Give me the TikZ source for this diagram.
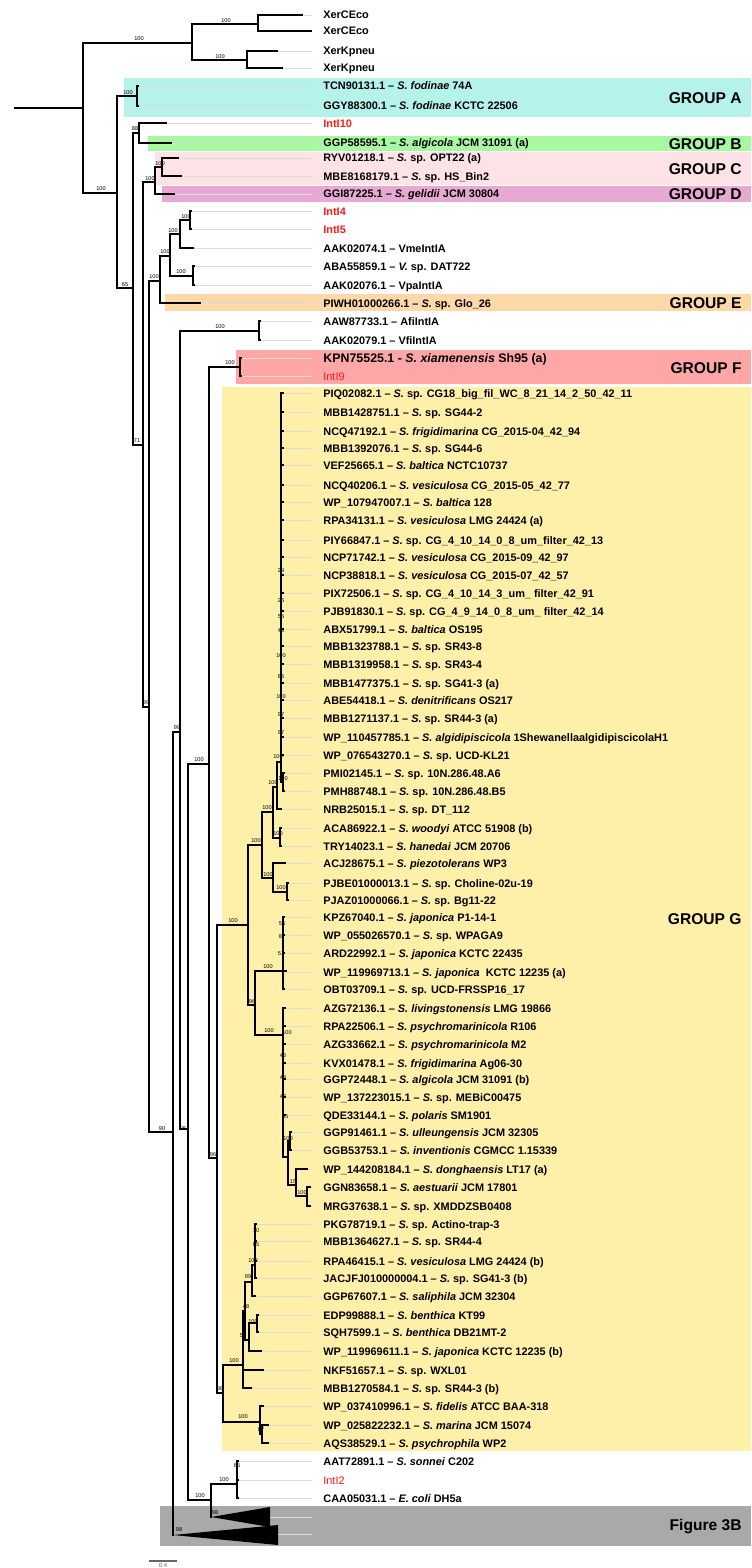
\documentclass[tikz,border=0pt]{standalone}
\usepackage{fontspec}
\setmainfont{Liberation Sans}
\definecolor{grpA}{HTML}{B5F2EC}
\definecolor{grpB}{HTML}{A7F8A0}
\definecolor{grpC}{HTML}{FDE3E6}
\definecolor{grpD}{HTML}{E7A9D4}
\definecolor{grpE}{HTML}{FFD8A8}
\definecolor{grpF}{HTML}{FFA7A7}
\definecolor{grpG}{HTML}{FFF0A9}
\definecolor{grpX}{HTML}{A9A9A9}
\definecolor{intred}{HTML}{FF1A1A}
\tikzset{
  twig/.style={line width=1.35pt,line cap=rect},
  guide/.style={line width=0.45pt,black!14},
  leaf/.style={anchor=west,inner sep=0pt,text height=4pt,text depth=0pt,font=\bfseries\fontsize{5.45}{6}\selectfont},
  boot/.style={inner sep=0pt,font=\fontsize{2.8}{3}\selectfont},
  grouplab/.style={anchor=east,inner sep=0pt,font=\bfseries\fontsize{7.8}{9}\selectfont}
}
\begin{document}
\begin{tikzpicture}[x=0.5pt,y=-0.5pt]
\useasboundingbox (0,0) rectangle (751,1568);
% group shading
\fill[grpA] (124,78) rectangle (751,117);
\fill[grpB] (148,136) rectangle (751,151);
\fill[grpC] (155,152) rectangle (751,185);
\fill[grpD] (162,186) rectangle (751,202);
\fill[grpE] (165,294) rectangle (751,311);
\fill[grpF] (236,350) rectangle (751,384);
\fill[grpG] (222,387) rectangle (751,1451);
\fill[grpX] (160,1506) rectangle (751,1546);
% leaves: index/y/tip/text
\foreach \i/\y/\tx/\txt in {
1/15/302/{XerCEco}, 2/31/311/{XerCEco}, 3/51/277/{XerKpneu}, 4/68/282/{XerKpneu},
5/86/138/{TCN90131.1 – \textit{S. fodinae} 74A},
6/106/138/{GGY88300.1 – \textit{S. fodinae} KCTC 22506},
7/123/166/{\textcolor{intred}{IntI10}},
8/143/171/{GGP58595.1 – \textit{S. algicola} JCM 31091 (a)},
9/158/178/{RYV01218.1 – \textit{S.} sp. OPT22 (a)},
10/176/181/{MBE8168179.1 – \textit{S.} sp. HS\_Bin2},
11/194/174/{GGI87225.1 – \textit{S. gelidii} JCM 30804},
12/211/191/{\textcolor{intred}{IntI4}}, 13/229/191/{\textcolor{intred}{IntI5}},
14/248/193/{AAK02074.1 – VmeIntIA},
15/266/194/{ABA55859.1 – \textit{V.} sp. DAT722},
16/285/194/{AAK02076.1 – VpaIntIA},
17/303/200/{PIWH01000266.1 – \textit{S.} sp. Glo\_26},
18/321/260/{AAW87733.1 – AfiIntIA},
19/340/260/{AAK02079.1 – VfiIntIA},
20/358/241/{\fontsize{6.2}{7}\selectfont KPN75525.1 - \textit{S. xiamenensis} Sh95 (a)},
21/376/241/{\mdseries\textcolor{intred}{IntI9}},
22/393/283/{PIQ02082.1 – \textit{S.} sp. CG18\_big\_fil\_WC\_8\_21\_14\_2\_50\_42\_11},
23/412/283/{MBB1428751.1 – \textit{S.} sp. SG44-2},
24/431/283/{NCQ47192.1 – \textit{S. frigidimarina} CG\_2015-04\_42\_94},
25/448/283/{MBB1392076.1 – \textit{S.} sp. SG44-6},
26/465/283/{VEF25665.1 – \textit{S. baltica} NCTC10737},
27/485/283/{NCQ40206.1 – \textit{S. vesiculosa} CG\_2015-05\_42\_77},
28/502/283/{WP\_107947007.1 – \textit{S. baltica} 128},
29/520/283/{RPA34131.1 – \textit{S. vesiculosa} LMG 24424 (a)},
30/540/283/{PIY66847.1 – \textit{S.} sp. CG\_4\_10\_14\_0\_8\_um\_filter\_42\_13},
31/557/283/{NCP71742.1 – \textit{S. vesiculosa} CG\_2015-09\_42\_97},
32/575/283/{NCP38818.1 – \textit{S. vesiculosa} CG\_2015-07\_42\_57},
33/593/283/{PIX72506.1 – \textit{S.} sp. CG\_4\_10\_14\_3\_um\_ filter\_42\_91},
34/611/283/{PJB91830.1 – \textit{S.} sp. CG\_4\_9\_14\_0\_8\_um\_ filter\_42\_14},
35/629/283/{ABX51799.1 – \textit{S. baltica} OS195},
36/646/283/{MBB1323788.1 – \textit{S.} sp. SR43-8},
37/664/283/{MBB1319958.1 – \textit{S.} sp. SR43-4},
38/683/283/{MBB1477375.1 – \textit{S.} sp. SG41-3 (a)},
39/700/283/{ABE54418.1 – \textit{S. denitrificans} OS217},
40/718/283/{MBB1271137.1 – \textit{S.} sp. SR44-3 (a)},
41/737/283/{WP\_110457785.1 – \textit{S. algidipiscicola} 1ShewanellaalgidipiscicolaH1},
42/755/283/{WP\_076543270.1 – \textit{S.} sp. UCD-KL21},
43/773/284/{PMI02145.1 – \textit{S.} sp. 10N.286.48.A6},
44/791/284/{PMH88748.1 – \textit{S.} sp. 10N.286.48.B5},
45/809/281/{NRB25015.1 – \textit{S.} sp. DT\_112},
46/828/281/{ACA86922.1 – \textit{S. woodyi} ATCC 51908 (b)},
47/846/281/{TRY14023.1 – \textit{S. hanedai} JCM 20706},
48/863/285/{ACJ28675.1 – \textit{S. piezotolerans} WP3},
49/883/288/{PJBE01000013.1 – \textit{S.} sp. Choline-02u-19},
50/900/288/{PJAZ01000066.1 – \textit{S.} sp. Bg11-22},
51/917/284/{KPZ67040.1 – \textit{S. japonica} P1-14-1},
52/935/284/{WP\_055026570.1 – \textit{S.} sp. WPAGA9},
53/953/284/{ARD22992.1 – \textit{S. japonica} KCTC 22435},
54/972/286/{WP\_119969713.1 – \textit{S. japonica}\ \ KCTC 12235 (a)},
55/989/284/{OBT03709.1 – \textit{S.} sp. UCD-FRSSP16\_17},
56/1008/285/{AZG72136.1 – \textit{S. livingstonensis} LMG 19866},
57/1026/285/{RPA22506.1 – \textit{S. psychromarinicola} R106},
58/1044/285/{AZG33662.1 – \textit{S. psychromarinicola} M2},
59/1063/285/{KVX01478.1 – \textit{S. frigidimarina} Ag06-30},
60/1079/285/{GGP72448.1 – \textit{S. algicola} JCM 31091 (b)},
61/1097/285/{WP\_137223015.1 – \textit{S.} sp. MEBiC00475},
62/1115/285/{QDE33144.1 – \textit{S. polaris} SM1901},
63/1132/291/{GGP91461.1 – \textit{S. ulleungensis} JCM 32305},
64/1150/291/{GGB53753.1 – \textit{S. inventionis} CGMCC 1.15339},
65/1169/307/{WP\_144208184.1 – \textit{S. donghaensis} LT17 (a)},
66/1187/310/{GGN83658.1 – \textit{S. aestuarii} JCM 17801},
67/1206/310/{MRG37638.1 – \textit{S.} sp. XMDDZSB0408},
68/1224/256/{PKG78719.1 – \textit{S.} sp. Actino-trap-3},
69/1241/256/{MBB1364627.1 – \textit{S.} sp. SR44-4},
70/1261/256/{RPA46415.1 – \textit{S. vesiculosa} LMG 24424 (b)},
71/1278/256/{JACJFJ010000004.1 – \textit{S.} sp. SG41-3 (b)},
72/1296/255/{GGP67607.1 – \textit{S. saliphila} JCM 32304},
73/1315/258/{EDP99888.1 – \textit{S. benthica} KT99},
74/1332/258/{SQH7599.1 – \textit{S. benthica} DB21MT-2},
75/1351/261/{WP\_119969611.1 – \textit{S. japonica} KCTC 12235 (b)},
76/1370/263/{NKF51657.1 – \textit{S.} sp. WXL01},
77/1388/251/{MBB1270584.1 – \textit{S.} sp. SR44-3 (b)},
78/1406/263/{WP\_037410996.1 – \textit{S. fidelis} ATCC BAA-318},
79/1425/268/{WP\_025822232.1 – \textit{S. marina} JCM 15074},
80/1443/268/{AQS38529.1 – \textit{S. psychrophila} WP2},
81/1461/238/{AAT72891.1 – \textit{S. sonnei} C202},
82/1480/238/{\mdseries\textcolor{intred}{IntI2}},
83/1498/238/{CAA05031.1 – \textit{E. coli} DH5a}}{
  \node[leaf] (t\i) at (323,\y) {\txt};
  \draw[guide] (\tx,\y) -- ([xshift=-5.5pt]t\i.west);
}
\coordinate (c1) at (270,1517); \coordinate (c2) at (278,1534);
\draw[guide] (c1) -- (312,1517); \draw[guide] (c2) -- (312,1534);
% bootstrap values
\foreach \x/\y/\v [count=\k] in {139/39/100, 226/21/100, 220/57/100, 128/93/100, 101/189/100, 135/129/88, 125/285/65,
  160/164/100, 150/179/100, 186/217/100, 173/231/100, 165/252/100, 154/277/100, 181/272/100, 137/441/71, 146/703/99,
  220/327/100, 230/363/100, 162/1129/90, 177/728/99, 183/1129/95, 199/760/100, 213/1155/96, 233/921/100,
  281/571/29, 281/601/25, 281/617/55, 281/631/48, 281/656/100, 281/677/85, 281/697/100, 281/715/97, 281/733/97,
  278/757/100, 283/779/100, 273/783/100, 267/808/100, 256/841/100, 278/834/100, 268/875/100, 281/888/100,
  282/924/55, 282/937/87, 281/954/51, 268/967/100, 252/1002/96, 269/1031/100, 287/1033/100, 283/1056/46,
  283/1078/48, 283/1097/47, 285/1117/55, 288/1139/100, 293/1182/15, 302/1193/100,
  256/1231/70, 256/1245/85, 253/1261/100, 248/1277/99, 246/1307/48, 253/1322/100, 243/1336/50, 234/1361/100,
  220/1389/98, 243/1417/100, 261/1430/87, 200/1496/100, 224/1480/100, 237/1466/65, 215/1513/98, 179/1530/98}
  \node[boot] (b\k) at (\x,\y) {\v};
% tree: horizontal branches x1/x2/y
\foreach \a/\b/\y in {15/83/108, 83/192/43, 192/258/24, 258/302/15, 258/311/31, 192/247/60, 247/277/51, 247/282/68,
  83/117/193, 117/137/96, 137/138/86, 137/138/106, 117/133/288, 133/139/133, 139/166/123, 139/171/143,
  133/143/445, 143/155/182, 155/162/167, 162/178/158, 162/181/176, 155/174/194, 143/149/707,
  149/160/281, 160/170/256, 170/180/234, 180/190/220, 190/191/211, 190/191/229, 180/193/248, 170/193/276,
  193/194/266, 193/194/285, 160/200/303, 149/173/1132, 173/180/732, 180/259/331, 259/260/321, 259/260/340,
  180/188/1129, 188/209/764, 209/240/367, 240/241/358, 240/241/376, 209/217/1158, 217/248/925,
  248/262/845, 262/273/812, 273/277/787, 277/281/762, 281/283/782, 283/284/773, 283/284/791, 277/281/809,
  273/280/838, 280/281/828, 280/281/846, 262/273/878, 273/285/863, 273/287/892, 287/288/883, 287/288/900,
  248/255/1005, 255/286/971, 283/284/917, 283/284/935, 283/284/953, 283/284/989,
  255/283/1035, 283/288/1157, 288/290/1141, 290/291/1132, 290/291/1150, 288/296/1185,
  296/307/1169, 296/307/1196, 307/310/1187, 307/310/1206,
  217/223/1393, 223/243/1365, 243/245/1311, 245/252/1282, 252/255/1265, 252/255/1296,
  245/249/1340, 249/257/1323, 257/258/1315, 257/258/1332, 249/261/1351, 243/263/1370, 243/251/1388,
  223/260/1422, 260/263/1406, 260/262/1434, 262/268/1425, 262/268/1443,
  188/211/1500, 211/237/1484, 237/238/1461, 237/238/1480, 237/238/1498}
  \draw[twig] (\a,\y) -- (\b,\y);
\foreach \y in {393,412,431,448,465,485,502,520,540,557,575,593,611,629,646,664,683,700,718,737,755}
  \draw[twig] (281,\y) -- (283,\y);
\foreach \y in {1008,1026,1044,1063,1079,1097,1115} \draw[twig] (283,\y) -- (285,\y);
\foreach \y in {1224,1241,1261,1278} \draw[twig] (255,\y) -- (256,\y);
% tree: vertical lines x/y1/y2
\foreach \x/\a/\b in {83/43/193, 192/24/60, 258/15/31, 247/51/68, 117/96/288, 137/86/106, 133/133/445, 139/123/143,
  143/182/707, 155/167/194, 162/158/176, 149/281/1132, 160/256/303, 170/234/276, 180/220/248, 190/211/229,
  193/266/285, 173/732/1535, 180/331/1129, 259/321/340, 188/764/1500, 209/367/1158, 240/358/376,
  217/925/1393, 248/845/1005, 262/812/878, 273/787/838, 277/762/809, 281/393/782, 283/773/791,
  280/828/846, 273/863/892, 287/883/900, 255/971/1035, 283/917/989, 283/1008/1157, 288/1141/1185,
  290/1132/1150, 296/1169/1196, 307/1187/1206, 223/1365/1422, 243/1311/1388, 245/1282/1340,
  252/1265/1296, 255/1224/1278, 249/1323/1351, 257/1315/1332, 260/1406/1434, 262/1425/1443,
  211/1484/1517, 237/1461/1498}
  \draw[twig] (\x,\a) -- (\x,\b);
% collapsed clades
\fill (211,1517) -- (c1 |- 0,1507) -- (c1 |- 0,1527) -- cycle;
\fill (173,1535) -- (c2 |- 0,1525) -- (c2 |- 0,1545) -- cycle;
% group names
\node[grouplab] (gA) at (742,98) {GROUP A};
\node[grouplab] (gB) at (742,144) {GROUP B};
\node[grouplab] (gC) at (742,169) {GROUP C};
\node[grouplab] (gD) at (742,194) {GROUP D};
\node[grouplab] (gE) at (742,303) {GROUP E};
\node[grouplab] (gF) at (742,368) {GROUP F};
\node[grouplab] (gG) at (742,919) {GROUP G};
\node[grouplab] (g3B) at (742,1526) {Figure 3B};
% scale bar
\coordinate (s0) at (149,1561); \coordinate (s1) at (177,1561);
\draw[line width=0.6pt,black!60] (s0) -- (s1);
\node[anchor=north,inner sep=0pt,black!60,font=\fontsize{3}{3.5}\selectfont] (sl) at (163,1562.5) {0.4};
\end{tikzpicture}
\end{document}
